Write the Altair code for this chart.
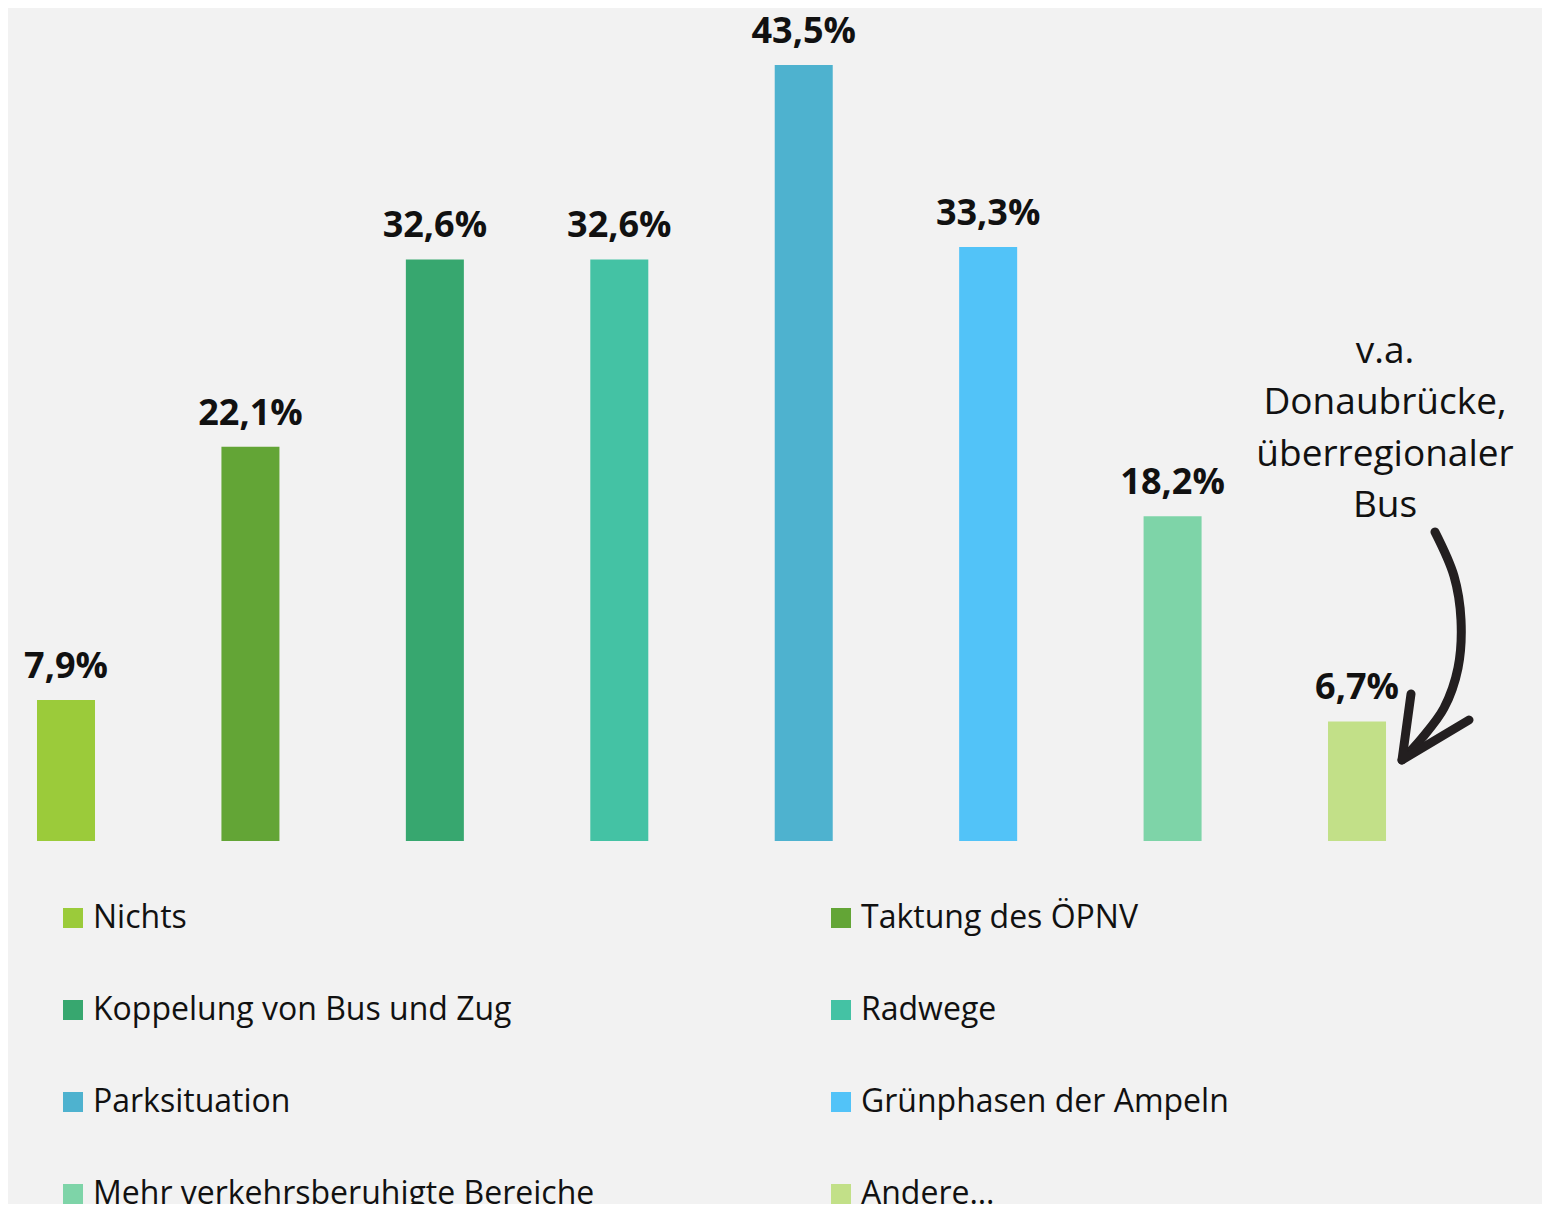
import altair as alt
import pandas as pd

categories = [
    "Nichts",
    "Taktung des ÖPNV",
    "Koppelung von Bus und Zug",
    "Radwege",
    "Parksituation",
    "Grünphasen der Ampeln",
    "Mehr verkehrsberuhigte Bereiche",
    "Andere…",
]
values = [7.9, 22.1, 32.6, 32.6, 43.5, 33.3, 18.2, 6.7]
colors = ["#9BCB3A", "#63A536", "#37A76F", "#44C2A4", "#4EB2CF", "#52C3F8", "#7ED4A8", "#C2E088"]

# legend reads row by row in two columns; Vega fills legend columns top-down
legend_order = [0, 2, 4, 6, 1, 3, 5, 7]

annotation_text = ["v.a.", "Donaubrücke,", "überregionaler", "Bus"]
annotation_category = "Andere…"

# hand-drawn arrow (pixel path of the annotation)
arrow_x = [1427, 1446, 1453, 1450, 1436, 1414, 1394]
arrow_y = [524, 568, 612, 660, 700, 730, 752]
head_x = [1403, 1394, 1461]
head_y = [686, 752, 712]

df = pd.DataFrame({
    "cat": categories,
    "val": values,
    "label": [f"{v:.1f}%".replace(".", ",") for v in values],
})

FONT = "Open Sans"
x_enc = alt.X("cat:N", sort=categories, axis=None,
              scale=alt.Scale(type="band", paddingInner=0.6855, paddingOuter=0.5015, align=0.1568))
y_scale = alt.Scale(domain=[0, 46.69], range=[833, 0])

bars = alt.Chart(df).mark_bar().encode(
    x=x_enc,
    y=alt.Y("val:Q", axis=None, scale=y_scale),
    color=alt.Color(
        "cat:N",
        scale=alt.Scale(domain=[categories[i] for i in legend_order],
                        range=[colors[i] for i in legend_order]),
        legend=alt.Legend(
            title=None,
            orient="none",
            legendX=49,
            legendY=894,
            columns=2,
            columnPadding=230,
            rowPadding=60,
            symbolType="square",
            symbolSize=400,
            symbolStrokeWidth=0,
            symbolOpacity=1,
            labelFont=FONT,
            labelFontSize=32,
            labelColor="#111111",
            labelOffset=4,
            labelLimit=1000,
            padding=0,
        ),
    ),
)

labels = alt.Chart(df).mark_text(
    dy=-22, baseline="alphabetic", fontSize=36, fontWeight="bold", font=FONT, color="#111111"
).encode(
    x=x_enc,
    y=alt.Y("val:Q", axis=None, scale=y_scale),
    text="label:N",
)

ann_df = pd.DataFrame({"cat": [annotation_category], "txt": [annotation_text]})
annotation = alt.Chart(ann_df).mark_text(
    dx=28, baseline="middle", align="center", fontSize=37, font=FONT, color="#111111", lineHeight=51.3
).encode(
    x=x_enc,
    y=alt.value(344),
    text="txt",
)

main = alt.layer(bars, labels, annotation)

arrow_df = pd.DataFrame({"px": arrow_x, "py": arrow_y, "o": list(range(len(arrow_x)))})
arrow = alt.Chart(arrow_df).mark_line(
    interpolate="catmull-rom", strokeWidth=9, color="#231F20", strokeCap="round"
).encode(
    x=alt.X("px:Q", scale=None, axis=None),
    y=alt.Y("py:Q", scale=None, axis=None),
    order="o:Q",
)
head_df = pd.DataFrame({"px": head_x, "py": head_y, "o": list(range(len(head_x)))})
head = alt.Chart(head_df).mark_line(
    strokeWidth=9, color="#231F20", strokeCap="round", strokeJoin="round"
).encode(
    x=alt.X("px:Q", scale=None, axis=None),
    y=alt.Y("py:Q", scale=None, axis=None),
    order="o:Q",
)

chart = alt.layer(main, arrow, head).resolve_scale(
    x="independent", y="independent"
).properties(
    width=1534,
    height=1196,
    padding=0,
    autosize=alt.AutoSizeParams(type="none"),
).configure(
    background="#F2F2F2",
).configure_view(stroke=None)

chart.save("out.html", embed_options={"renderer": "svg", "actions": False})
